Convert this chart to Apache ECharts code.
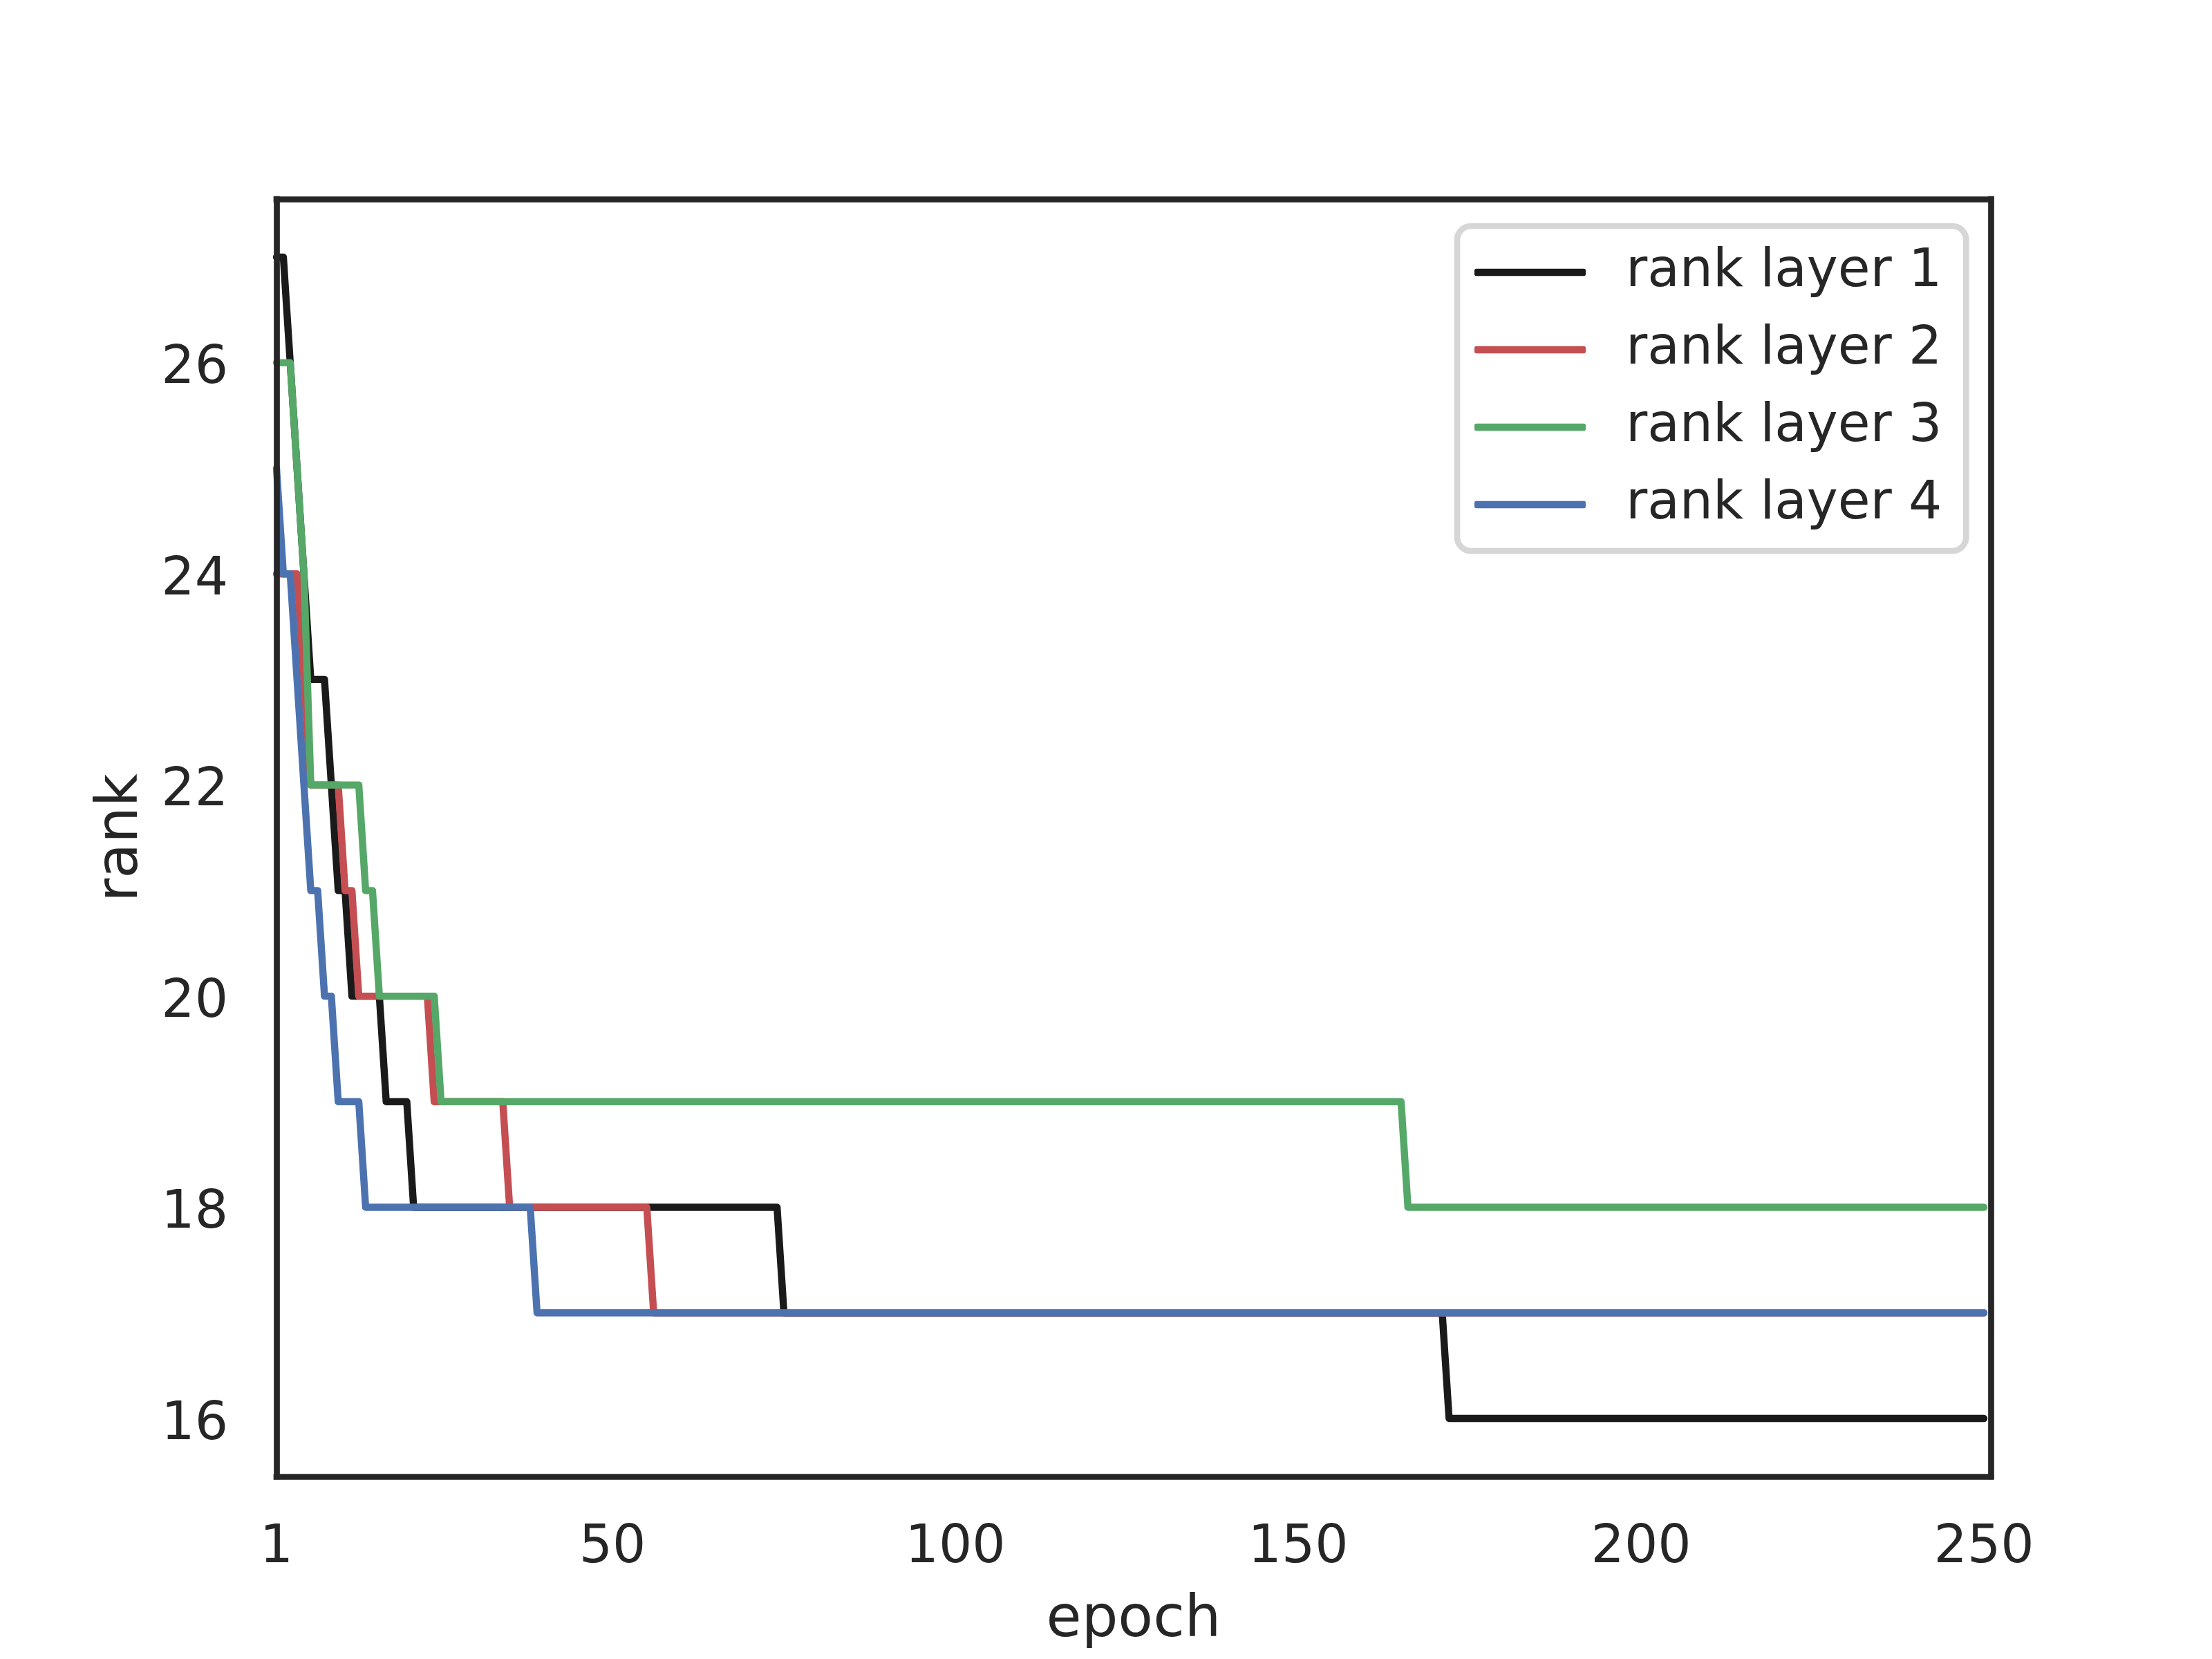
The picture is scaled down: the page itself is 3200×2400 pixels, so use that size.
<!DOCTYPE html>
<html>
<head>
<meta charset="utf-8">
<script src="https://cdn.jsdelivr.net/npm/echarts@6/dist/echarts.min.js"></script>
<style>
  html, body { margin: 0; padding: 0; background: #fff; }
  #chart { width: 3200px; height: 2400px; }
</style>
</head>
<body>
<div id="chart"></div>
<script>
// corner points of each curve (epoch where the rank changes)
var layer1Epoch = [1, 2, 6, 8, 10, 11, 12, 16, 17, 20, 21, 74, 75, 171, 172, 250];
var layer1Rank  = [27, 27, 23, 23, 21, 21, 20, 20, 19, 19, 18, 18, 17, 17, 16, 16];

var layer2Epoch = [1, 4, 6, 10, 11, 12, 13, 23, 24, 34, 35, 55, 56, 250];
var layer2Rank  = [24, 24, 22, 22, 21, 21, 20, 20, 19, 19, 18, 18, 17, 17];

var layer3Epoch = [1, 3, 5, 6, 13, 14, 15, 16, 24, 25, 165, 166, 250];
var layer3Rank  = [26, 26, 24, 22, 22, 21, 21, 20, 20, 19, 19, 18, 18];

var layer4Epoch = [1, 2, 3, 6, 7, 8, 9, 10, 13, 14, 38, 39, 250];
var layer4Rank  = [25, 24, 24, 21, 21, 20, 20, 19, 19, 18, 18, 17, 17];

var seriesNames = ['rank layer 1', 'rank layer 2', 'rank layer 3', 'rank layer 4'];
var xTicks = [1, 50, 100, 150, 200, 250];
var yTicks = [16, 18, 20, 22, 24, 26];

var colors = ['#1a1a1a', '#c44e52', '#55a868', '#4c72b0'];
var textColor = '#262626';
var font = 'DejaVu Sans';

function pairs(ep, rk){
    var out = [];
    for(var i = 0; i < ep.length; i++){
        out.push([ep[i], rk[i]]);
    }
    return out;
}

var curves = [
    pairs(layer1Epoch, layer1Rank),
    pairs(layer2Epoch, layer2Rank),
    pairs(layer3Epoch, layer3Rank),
    pairs(layer4Epoch, layer4Rank)
];

var spine = { show: true, lineStyle: { color: textColor, width: 8.7, cap: 'square' } };

var chart = echarts.init(document.getElementById('chart'), null, { renderer: 'canvas' });

var option = {
    animation: false,
    backgroundColor: '#ffffff',
    grid: { left: 400, right: 320, top: 288, bottom: 264, containLabel: false },
    xAxis: [{
        type: 'value',
        min: 1,
        max: 251,
        name: 'epoch',
        nameLocation: 'middle',
        nameGap: 168,
        nameTextStyle: { fontFamily: font, fontSize: 83, color: textColor, lineHeight: 83 },
        axisLine: spine,
        axisTick: { show: false },
        splitLine: { show: false },
        axisLabel: {
            customValues: xTicks,
            fontFamily: font, fontSize: 76, color: textColor,
            lineHeight: 76, margin: 66
        },
        z: 10
    }, {
        type: 'value', position: 'top', min: 1, max: 251,
        axisLine: spine, axisTick: { show: false }, axisLabel: { show: false },
        splitLine: { show: false }, z: 10
    }],
    yAxis: [{
        type: 'value',
        min: 15.45,
        max: 27.55,
        name: 'rank',
        nameLocation: 'middle',
        nameGap: 182,
        nameTextStyle: { fontFamily: font, fontSize: 83, color: textColor, lineHeight: 83 },
        axisLine: spine,
        axisTick: { show: false },
        splitLine: { show: false },
        axisLabel: {
            customValues: yTicks,
            margin: 70,
            formatter: '{v|{value}}',
            rich: {
                v: {
                    fontFamily: font, fontSize: 76, color: textColor,
                    lineHeight: 76, padding: [20, 0, 0, 0]
                }
            }
        },
        z: 10
    }, {
        type: 'value', position: 'right', min: 15.45, max: 27.55,
        axisLine: spine, axisTick: { show: false }, axisLabel: { show: false },
        splitLine: { show: false }, z: 10
    }],
    legend: {
        orient: 'vertical',
        left: 2108,
        top: 327,
        padding: [29, 35, 29, 25],
        itemGap: 36,
        itemWidth: 161,
        itemHeight: 10.4,
        icon: 'roundRect',
        backgroundColor: 'rgba(255,255,255,0.8)',
        borderColor: '#d6d6d6',
        borderWidth: 8.7,
        borderRadius: 20,
        textStyle: {
            fontFamily: font, fontSize: 76, color: textColor,
            lineHeight: 76, padding: [0, 0, 0, 53]
        },
        data: seriesNames
    },
    series: seriesNames.map(function(name, i){
        return {
            name: name,
            type: 'line',
            data: curves[i],
            symbol: 'none',
            showSymbol: false,
            color: colors[i],
            lineStyle: { width: 10.4, color: colors[i], cap: 'round', join: 'round' },
            z: 2
        };
    })
};

chart.setOption(option);
</script>
</body>
</html>
